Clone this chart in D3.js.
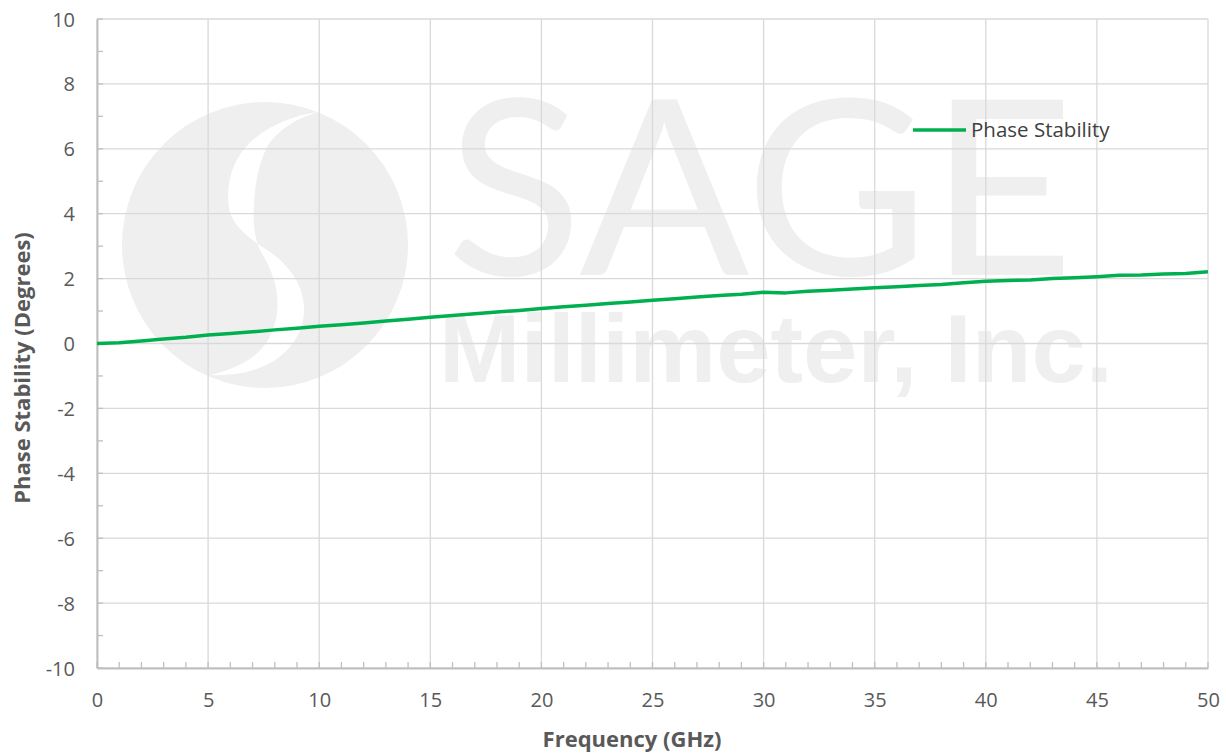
<!DOCTYPE html>
<html>
<head>
<meta charset="utf-8">
<script src="https://cdn.jsdelivr.net/npm/d3@7"></script>
<style>
  body { margin: 0; background: #fff; }
  text { font-family: "Open Sans", "Liberation Sans", sans-serif; }
</style>
</head>
<body>
<svg id="chart" width="1226" height="754"></svg>
<script>
// data (GHz, degrees)
var freq = d3.range(0, 51);
var phase = [0.00, 0.02, 0.08, 0.14, 0.19, 0.26, 0.31, 0.36, 0.42, 0.47,
             0.53, 0.58, 0.63, 0.69, 0.75, 0.81, 0.86, 0.92, 0.97, 1.02,
             1.08, 1.13, 1.18, 1.23, 1.28, 1.33, 1.38, 1.43, 1.48, 1.52,
             1.58, 1.56, 1.61, 1.64, 1.68, 1.72, 1.75, 1.79, 1.82, 1.87,
             1.92, 1.94, 1.96, 2.00, 2.03, 2.06, 2.10, 2.11, 2.14, 2.16,
             2.21];
var xTicks = [0, 5, 10, 15, 20, 25, 30, 35, 40, 45, 50];
var yTicks = [-10, -8, -6, -4, -2, 0, 2, 4, 6, 8, 10];
var seriesName = "Phase Stability";

var margin = {top: 19, right: 18, bottom: 86, left: 97},
    width = 1226 - margin.left - margin.right,
    height = 754 - margin.top - margin.bottom;

var svg = d3.select("#chart");

// watermark first, so grid and line sit on top of it
var wm = svg.append("g").attr("fill", "#efefef");
wm.append("circle").attr("cx", 265).attr("cy", 245).attr("r", 143);
// S-shaped white cut through the logo disc
wm.append("path")
    .attr("d", "M318,112 C290,116 262,128 245,148 C230,165 226,190 229,208 C232,225 248,238 270,252"
             + " C290,266 303,285 304,307 C305,330 292,350 272,362 C255,372 232,376 210,375"
             + " C232,370 255,360 266,343 C276,328 279,310 277,294 C275,277 267,262 260,250"
             + " C254,238 253,220 254,205 C255,185 258,165 268,145 C280,128 298,118 318,112 Z")
    .attr("fill", "#fff");
wm.append("text")
    .attr("x", 446).attr("y", 275)
    .attr("textLength", 628).attr("lengthAdjust", "spacingAndGlyphs")
    .style("font-family", "Lato, 'Open Sans', sans-serif")
    .style("font-weight", 400)
    .style("font-size", "244px")
    .text("SAGE");
wm.append("text")
    .attr("x", 439).attr("y", 382)
    .attr("textLength", 674).attr("lengthAdjust", "spacingAndGlyphs")
    .style("font-family", "'Liberation Sans', sans-serif")
    .style("font-weight", "bold")
    .style("font-size", "96px")
    .text("Millimeter, Inc.");

var g = svg.append("g")
    .attr("transform", "translate(" + margin.left + "," + margin.top + ")");

var x = d3.scaleLinear().domain([0, 50]).range([0, width]);
var y = d3.scaleLinear().domain([-10, 10]).range([height, 0]);

// gridlines
g.append("g").selectAll("line")
    .data(yTicks).enter().append("line")
    .attr("x1", 0).attr("x2", width)
    .attr("y1", function (d) { return y(d); })
    .attr("y2", function (d) { return y(d); })
    .attr("stroke", "#d9d9d9").attr("stroke-width", 1.3);
g.append("g").selectAll("line")
    .data(xTicks).enter().append("line")
    .attr("y1", 0).attr("y2", height)
    .attr("x1", function (d) { return x(d); })
    .attr("x2", function (d) { return x(d); })
    .attr("stroke", "#d9d9d9").attr("stroke-width", 1.3);

// minor ticks
g.append("g").selectAll("line")
    .data(d3.range(-10, 11)).enter().append("line")
    .attr("x1", 0).attr("x2", 6)
    .attr("y1", function (d) { return y(d); })
    .attr("y2", function (d) { return y(d); })
    .attr("stroke", "#bfbfbf").attr("stroke-width", 1.3);
g.append("g").selectAll("line")
    .data(d3.range(0, 51)).enter().append("line")
    .attr("y1", height).attr("y2", height - 6)
    .attr("x1", function (d) { return x(d); })
    .attr("x2", function (d) { return x(d); })
    .attr("stroke", "#bfbfbf").attr("stroke-width", 1.3);

// axes (plain hyphen for negatives, like the reference)
var fmt = function (d) { return String(d); };
var yAxis = d3.axisLeft(y).tickValues(yTicks).tickSize(0).tickPadding(22).tickFormat(fmt);
var xAxis = d3.axisBottom(x).tickValues(xTicks).tickSize(0).tickFormat(fmt);
var gy = g.append("g").call(yAxis);
var gx = g.append("g").attr("transform", "translate(0," + height + ")").call(xAxis);
[gx, gy].forEach(function (a) {
  a.select(".domain").attr("stroke", "#bfbfbf").attr("stroke-width", 2);
  a.selectAll("text")
      .style("font-family", "'Open Sans', sans-serif")
      .style("font-size", "20px")
      .attr("fill", "#595959");
});
gy.selectAll("text").attr("dy", "0.35em");
gx.selectAll("text").attr("y", 39).attr("dy", 0);

// series line
var line = d3.line()
    .x(function (d, i) { return x(freq[i]); })
    .y(function (d) { return y(d); });
g.append("path")
    .datum(phase)
    .attr("d", line)
    .attr("fill", "none")
    .attr("stroke", "#00b050")
    .attr("stroke-width", 3.5)
    .attr("stroke-linejoin", "round");

// legend
var leg = svg.append("g").attr("transform", "translate(913,130)");
leg.append("line").attr("x1", 0).attr("x2", 53)
    .attr("stroke", "#00b050").attr("stroke-width", 3.5);
leg.append("text").attr("x", 58).attr("dy", "0.35em")
    .style("font-size", "20.5px")
    .attr("fill", "#404040")
    .text(seriesName);

// axis titles
svg.append("text")
    .attr("text-anchor", "middle")
    .attr("transform", "translate(30,368)rotate(-90)")
    .style("font-size", "22px").style("font-weight", "bold")
    .attr("fill", "#595959")
    .text("Phase Stability (Degrees)");
svg.append("text")
    .attr("text-anchor", "middle")
    .attr("x", 632).attr("y", 747)
    .style("font-size", "22px").style("font-weight", "bold")
    .attr("fill", "#595959")
    .text("Frequency (GHz)");
</script>
</body>
</html>
